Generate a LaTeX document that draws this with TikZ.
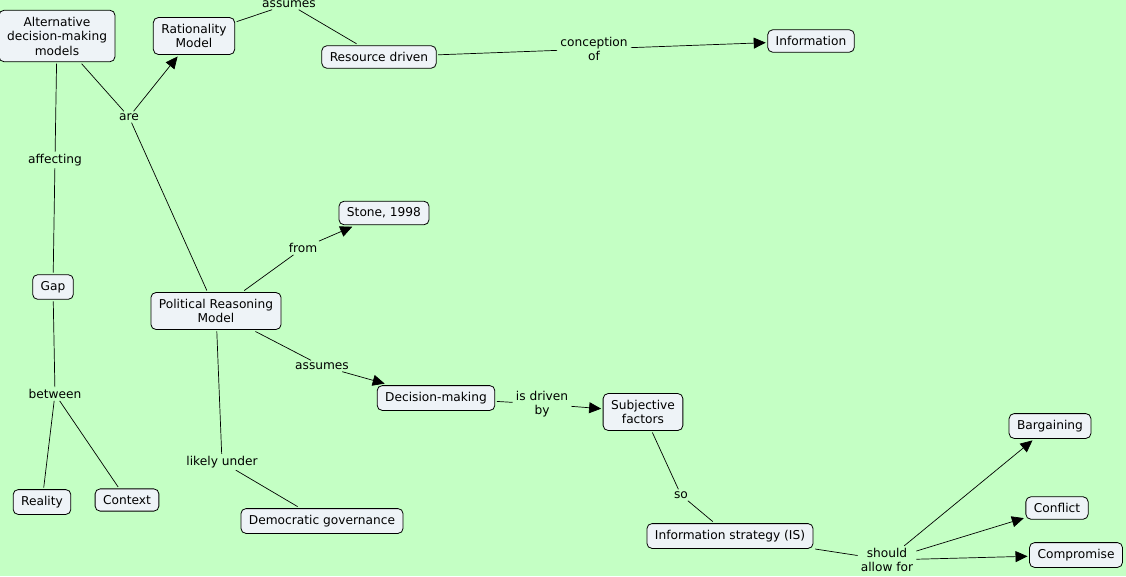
\documentclass[tikz,border=0pt]{standalone}
\usepackage{fontspec}
\setmainfont{DejaVu Sans}
\usetikzlibrary{arrows.meta}
\definecolor{bg}{RGB}{196,255,196}
\definecolor{cfill}{RGB}{238,243,247}
\tikzset{
  txt/.style={font=\fontsize{12.2}{14.5}\selectfont},
  concept/.style={txt, draw=black, fill=cfill, rounded corners=5pt, line width=0.8pt, align=center, inner xsep=8pt, inner ysep=6.5pt, outer sep=2pt},
  lp/.style={txt, align=center, inner xsep=3pt, inner ysep=2pt},
  conn/.style={line width=0.7pt},
  arr/.style={conn, -{Triangle[length=12pt,width=11pt]}},
}
\begin{document}
\begin{tikzpicture}[x=1pt,y=-1pt]
\useasboundingbox (0,0) rectangle (1126,576);
\fill[bg] (0,0) rectangle (1126,576);
\begin{scope}
\clip (0,0) rectangle (1126,576);
% concepts
\node[concept] (adm) at (57,36) {Alternative\\decision-making\\models};
\node[concept] (rat) at (194,36) {Rationality\\Model};
\node[concept] (res) at (379,57) {Resource driven};
\node[concept] (inf) at (811,41) {Information};
\node[concept] (sto) at (384,213) {Stone, 1998};
\node[concept] (prm) at (216,311) {Political Reasoning\\Model};
\node[concept] (gap) at (53,287) {Gap};
\node[concept] (rea) at (42,502) {Reality};
\node[concept] (con) at (127,500) {Context};
\node[concept] (dem) at (322,521) {Democratic governance};
\node[concept] (dec) at (436,398) {Decision-making};
\node[concept] (sub) at (643,412) {Subjective\\factors};
\node[concept] (ist) at (730,536) {Information strategy (IS)};
\node[concept] (bar) at (1050,426) {Bargaining};
\node[concept] (cfl) at (1057,508) {Conflict};
\node[concept] (cmp) at (1076,555) {Compromise};
% linking phrases
\node[lp] (are) at (129,117) {are};
\node[lp] (as1) at (289,4) {assumes};
\node[lp] (cof) at (594,49) {conception\\of};
\node[lp] (aff) at (55,160) {affecting};
\node[lp] (btw) at (55,394) {between};
\node[lp] (frm) at (303,248) {from};
\node[lp] (as2) at (322,366) {assumes};
\node[lp] (idb) at (542,404) {is driven\\by};
\node[lp] (liu) at (222,462) {likely under};
\node[lp] (so) at (681,495) {so};
\node[lp] (saf) at (887,560) {should\\allow for};
% connectors
\draw[conn] (adm) -- (are);
\draw[arr] (are) -- (rat);
\draw[conn] (are) -- (prm);
\draw[conn] (rat) -- (as1);
\draw[conn] (as1) -- (res);
\draw[conn] (res) -- (cof);
\draw[arr] (cof) -- (inf);
\draw[conn] (adm) -- (aff);
\draw[conn] (aff) -- (gap);
\draw[conn] (gap) -- (btw);
\draw[conn] (btw) -- (rea);
\draw[conn] (btw) -- (con);
\draw[conn] (prm) -- (frm);
\draw[arr] (frm) -- (sto);
\draw[conn] (prm) -- (as2);
\draw[arr] (as2) -- (dec);
\draw[conn] (dec) -- (idb);
\draw[arr] (idb) -- (sub);
\draw[conn] (prm) -- (liu);
\draw[conn] (liu) -- (dem);
\draw[conn] (sub) -- (so);
\draw[conn] (so) -- (ist);
\draw[conn] (ist) -- (saf);
\draw[arr] (saf) -- (bar);
\draw[arr] (saf) -- (cfl);
\draw[arr] (saf) -- (cmp);
\end{scope}
\end{tikzpicture}
\end{document}
